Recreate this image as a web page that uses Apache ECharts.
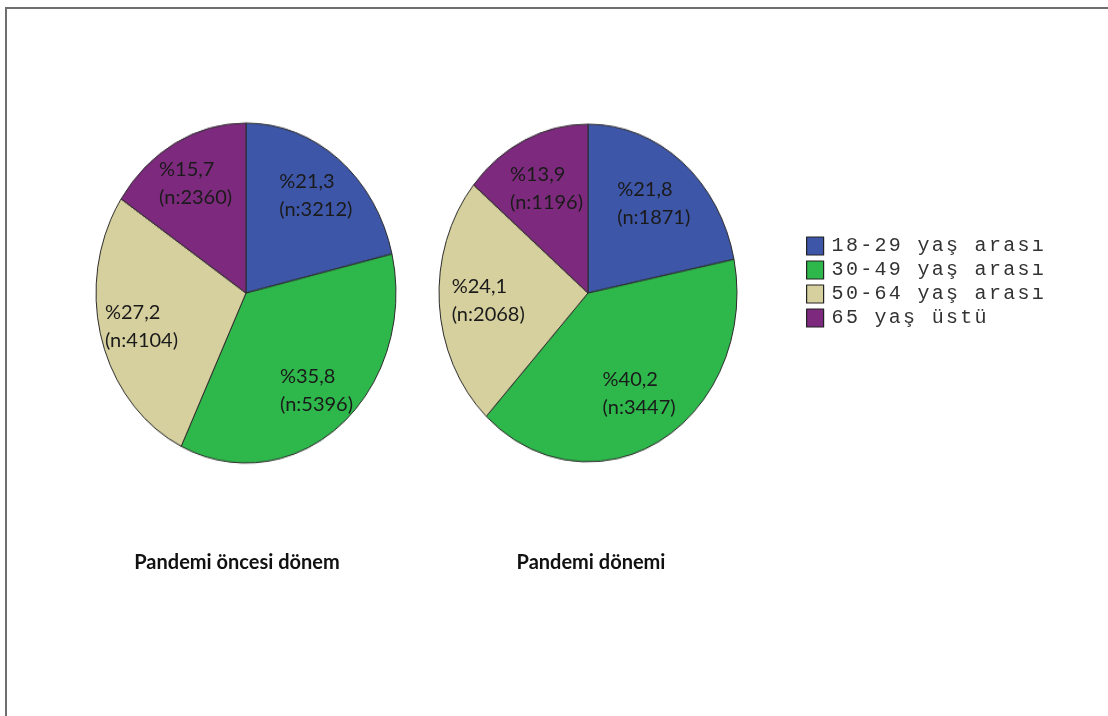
<!DOCTYPE html>
<html>
<head>
<meta charset="utf-8">
<script src="https://cdn.jsdelivr.net/npm/echarts@6/dist/echarts.min.js"></script>
<style>
  html, body { margin:0; padding:0; background:#fff; }
  #wrap { position:relative; width:1108px; height:716px; overflow:hidden; background:#fff; }
  #frame { position:absolute; left:5px; top:7px; width:1200px; height:800px; border-top:2px solid #6e6e6e; border-left:2px solid #6e6e6e; }
  #pies { position:absolute; left:0; top:0; width:1108px; height:716px; transform:scaleY(1.1333); transform-origin:0 293px; }
  #main { position:absolute; left:0; top:0; width:1108px; height:716px; }
</style>
</head>
<body>
<div id="wrap">
  <div id="frame"></div>
  <div id="pies"></div>
  <div id="main"></div>
</div>
<script>
// ---- data ----
const categories = ['18-29 yaş arası', '30-49 yaş arası', '50-64 yaş arası', '65 yaş üstü'];
const preCounts = [3212, 5396, 4104, 2360];
const prePct = [21.3, 35.8, 27.2, 15.7];
const panCounts = [1871, 3447, 2068, 1196];
const panPct = [21.8, 40.2, 24.1, 13.9];
const periodTitles = ['Pandemi öncesi dönem', 'Pandemi dönemi'];

// ---- styles ----
const palette = ['#3e56a8', '#2eb84b', '#d6d09e', '#7d2a7e'];
const pieCenters = [[246, 293], [588, 293]];
const pieRadius = [150, 149];
const labelRing = [[64, 150], [48, 149]];
const stretchY = 1.1333;
const titleLeft = [232, 586];

function toData(counts) {
  return counts.map((v, i) => ({ name: categories[i], value: v }));
}
function fmtPct(p) { return '%' + p.toFixed(1).replace('.', ','); }

const datasets = [[preCounts, prePct], [panCounts, panPct]];

// Pie shapes (stretched vertically by CSS to the elliptical look)
const pies = echarts.init(document.getElementById('pies'), null, { renderer: 'canvas' });
pies.setOption({
  animation: false,
  color: palette,
  series: datasets.map((d, k) => ({
    type: 'pie',
    center: pieCenters[k],
    radius: [0, pieRadius[k]],
    startAngle: 90,
    clockwise: true,
    silent: true,
    label: { show: false },
    labelLine: { show: false },
    itemStyle: { borderColor: '#2a2a2a', borderWidth: 1 },
    data: toData(d[0])
  }))
});

// Labels, titles, legend (unstretched)
const main = echarts.init(document.getElementById('main'), null, { renderer: 'canvas' });
main.setOption({
  animation: false,
  color: palette,
  title: periodTitles.map((t, k) => ({
    text: t,
    left: titleLeft[k],
    top: 548,
    textAlign: 'center',
    textStyle: { fontFamily: 'Lato, "Open Sans", sans-serif', fontWeight: 'bold', fontSize: 20, color: '#111' }
  })),
  legend: {
    orient: 'vertical',
    left: 806,
    top: 236,
    padding: 0,
    itemWidth: 17,
    itemHeight: 18,
    itemGap: 4,
    icon: 'rect',
    selectedMode: false,
    data: categories.map((c, i) => ({
      name: c,
      itemStyle: { color: palette[i], borderColor: '#222', borderWidth: 1.2, opacity: 1 }
    })),
    formatter: name => name.split('').map(ch => '{c|' + ch + '}').join(''),
    textStyle: {
      padding: [0, 0, 0, 3],
      rich: {
        c: { fontFamily: '"Liberation Mono", "DejaVu Sans Mono", monospace', fontSize: 20, lineHeight: 19, width: 14.3, align: 'left', color: '#333' }
      }
    }
  },
  series: datasets.map((d, k) => ({
    type: 'pie',
    center: pieCenters[k],
    radius: labelRing[k],
    startAngle: 90,
    clockwise: true,
    silent: true,
    itemStyle: { color: 'rgba(0,0,0,0)', borderWidth: 0 },
    labelLine: { show: false },
    label: {
      show: true,
      position: 'inside',
      formatter: p => '{a|' + fmtPct(d[1][p.dataIndex]) + '}\n{a|(n:' + d[0][p.dataIndex] + ')}',
      rich: {
        a: { fontFamily: 'Lato, "Open Sans", sans-serif', fontSize: 20, lineHeight: 28, color: '#1a1a1a', width: 70, align: 'left' }
      }
    },
    // follow the vertical stretch of the pie shapes
    labelLayout: function (params) {
      const r = params.labelRect;
      const midY = r.y + r.height / 2;
      return { dy: (midY - pieCenters[k][1]) * (stretchY - 1) };
    },
    data: toData(d[0])
  }))
});
</script>
</body>
</html>
